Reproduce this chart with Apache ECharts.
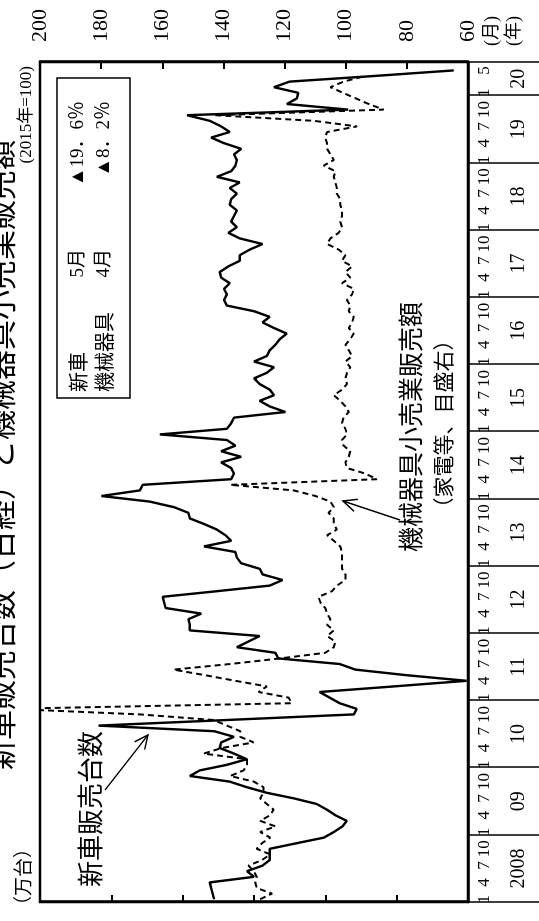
<!DOCTYPE html>
<html><head><meta charset="utf-8">
<script src="https://cdn.jsdelivr.net/npm/echarts@6/dist/echarts.min.js"></script>
<style>
html,body{margin:0;padding:0;width:539px;height:921px;overflow:hidden;background:#fff}
#wrap{position:absolute;left:0;top:0;width:921px;height:539px;transform-origin:0 0;transform:translate(0,921px) rotate(-90deg);}
#chart{width:921px;height:539px;background:#fff}
</style></head>
<body><div id="wrap"><div id="chart"></div></div>
<script>
// ---- data ----
const yearLabels = ['2008','09','10','11','12','13','14','15','16','17','18','19','20'];
const monthsInLastYear = 6;
const monthTickLabels = [1, 4, 7, 10];
const lastMonthLabel = 5;
// 新車販売台数 (万台, left axis)
const carSales = [
 37.8,37.9,38.0,38.1,35.0,35.5,34.4,33.9,33.9,33.9,32.0,30.1,
 29.4,28.8,28.5,29.3,29.9,30.6,32.2,34.1,35.5,36.7,39.5,38.8,
 36.9,35.5,36.4,37.4,37.3,36.4,37.8,45.9,36.9,28.0,27.8,29.0,
 29.7,30.4,25.2,20.1,24.3,27.9,29.0,33.3,33.5,36.2,35.4,34.6,
 39.5,39.5,39.6,38.7,41.2,41.3,41.4,37.6,33.9,33.0,34.4,34.6,
 35.9,36.2,36.3,38.5,36.6,37.0,37.6,38.5,39.5,39.6,40.6,42.3,
 45.7,43.0,42.8,36.6,36.4,36.6,37.3,35.9,37.3,36.3,36.9,41.6,
 36.9,36.6,36.4,32.8,33.9,34.6,33.6,33.9,34.6,35.0,34.1,33.6,
 35.0,34.1,33.9,33.5,33.2,32.7,33.6,34.4,33.9,35.0,36.9,37.1,
 36.9,37.1,36.7,37.3,37.4,36.8,36.0,36.0,35.3,34.4,36.0,36.8,
 36.2,36.6,36.4,36.2,36.7,36.6,36.2,36.7,36.0,37.6,36.6,36.3,
 36.2,36.4,35.9,37.1,38.0,36.7,37.3,38.1,39.7,28.4,32.7,32.0,
 31.9,33.6,32.5,26.6,21.0,null
];
// 機械器具小売業販売額 (2015年=100, right axis)
const machineSales = [
 128.0,124.1,129.1,129.6,129.1,130.1,131.8,127.4,124.7,129.1,127.4,124.7,
 128.0,123.0,128.0,124.7,123.6,125.8,128.0,126.9,126.9,130.1,137.8,133.4,
 132.3,132.3,146.5,140.5,130.1,134.5,134.5,138.9,143.2,167.3,210.0,117.6,
 118.7,128.5,125.8,136.1,146.0,156.3,137.8,121.4,106.7,103.9,103.4,106.1,
 103.9,106.1,105.0,106.1,106.7,108.3,108.9,104.5,102.9,100.1,100.1,101.2,
 101.2,101.2,101.2,101.8,103.9,106.1,102.9,103.9,103.9,105.6,103.9,105.0,
 109.9,117.0,137.8,89.8,93.6,99.6,100.1,99.0,98.5,100.7,101.2,99.6,
 100.1,101.2,100.7,99.0,100.1,101.8,103.9,101.2,99.6,100.1,99.6,98.5,
 100.1,97.9,99.0,100.1,98.5,97.4,99.0,97.9,97.4,99.0,98.5,99.6,
 97.9,97.4,101.2,98.5,100.1,97.9,101.2,100.1,102.3,106.1,105.0,102.3,
 101.2,101.8,101.2,101.2,101.8,101.8,102.9,102.9,103.4,103.9,103.4,107.2,
 103.9,105.0,106.1,106.1,106.7,106.1,96.3,110.5,142.7,87.6,92.5,96.7,
 100.9,105.0,100.7,93.6,null,null
];
const leftAxis = { min: 20, max: 50, interval: 5 };
const rightAxis = { min: 60, max: 200, interval: 20 };

// categories (year index / month)
const categories = [];
yearLabels.forEach((y, yi) => {
  const n = yi === yearLabels.length - 1 ? monthsInLastYear : 12;
  for (let m = 1; m <= n; m++) categories.push(yi + '-' + m);
});
const nCat = categories.length;

const SERIF = '"Liberation Serif","Noto Sans CJK JP",serif';
const JP = '"Noto Sans CJK JP","Liberation Serif",sans-serif';

function showMonth(i) {
  const [yi, m] = categories[i].split('-').map(Number);
  if (yi === yearLabels.length - 1) return m === 1 || m === lastMonthLabel;
  return monthTickLabels.indexOf(m) >= 0;
}

function arrow(sx, sy, ex, ey) {
  const dx = ex - sx, dy = ey - sy, L = Math.hypot(dx, dy);
  const bx = -dx / L, by = -dy / L, a = 25 * Math.PI / 180, h = 15;
  const c = Math.cos(a), s = Math.sin(a);
  const p1 = [ex + h * (bx * c - by * s), ey + h * (bx * s + by * c)];
  const p2 = [ex + h * (bx * c + by * s), ey + h * (-bx * s + by * c)];
  return [
    { type: 'line', shape: { x1: sx, y1: sy, x2: ex, y2: ey }, style: { stroke: '#000', lineWidth: 1.5 } },
    { type: 'polyline', shape: { points: [p1, [ex, ey], p2] }, style: { stroke: '#000', lineWidth: 1.5, fill: null } }
  ];
}
function txt(text, x, y, font, align, valign) {
  return { type: 'text', style: { text, x, y, font, fill: '#000', textAlign: align || 'left', textVerticalAlign: valign || 'middle' } };
}

const chart = echarts.init(document.getElementById('chart'), null, { renderer: 'canvas' });
const option = {
  animation: false,
  backgroundColor: '#fff',
  grid: { left: 19, top: 40, width: 840, height: 428, show: true, borderColor: '#000', borderWidth: 2.5, backgroundColor: 'transparent', containLabel: false },
  xAxis: [
    {
      type: 'category', data: categories, boundaryGap: true, position: 'bottom',
      axisLine: { show: true, lineStyle: { color: '#000', width: 2.5 } },
      axisTick: { show: true, interval: (i) => i % 12 === 0, length: 72, lineStyle: { color: '#000', width: 1.5 } },
      axisLabel: { interval: (i) => showMonth(i), formatter: (v) => v.split('-')[1], color: '#000', fontFamily: SERIF, fontSize: 17, margin: 8 },
      splitLine: { show: false }
    },
    {
      type: 'value', min: 0, max: nCat, interval: 3, position: 'bottom', offset: 38,
      axisLine: { show: false }, axisTick: { show: false }, splitLine: { show: false },
      axisLabel: {
        color: '#000', fontFamily: SERIF, fontSize: 20, margin: 3, showMinLabel: true, showMaxLabel: true,
        formatter: (v) => {
          const last = yearLabels.length - 1;
          if (v % 12 === 6 && v < last * 12) return yearLabels[(v - 6) / 12];
          if (v === last * 12 + 3) return yearLabels[last];
          return '';
        }
      }
    }
  ],
  yAxis: [
    {
      type: 'value', position: 'left', min: leftAxis.min, max: leftAxis.max, interval: leftAxis.interval,
      axisLine: { show: true, lineStyle: { color: '#000', width: 2.5 } },
      axisTick: { show: true, inside: true, length: 7, lineStyle: { color: '#000', width: 2 } },
      axisLabel: { show: false }, splitLine: { show: false }
    },
    {
      type: 'value', position: 'right', min: rightAxis.min, max: rightAxis.max, interval: rightAxis.interval,
      axisLine: { show: true, lineStyle: { color: '#000', width: 2.5 } },
      axisTick: { show: true, inside: true, length: 7, lineStyle: { color: '#000', width: 2 } },
      axisLabel: { color: '#000', fontFamily: SERIF, fontSize: 22, margin: 20 },
      splitLine: { show: false }
    }
  ],
  series: [
    { name: '新車販売台数', type: 'line', xAxisIndex: 0, yAxisIndex: 0, data: carSales, symbol: 'none', clip: true,
      lineStyle: { color: '#000', width: 2.4 }, z: 3 },
    { name: '機械器具小売業販売額', type: 'line', xAxisIndex: 0, yAxisIndex: 1, data: machineSales, symbol: 'none', clip: true,
      lineStyle: { color: '#000', width: 2, type: [6, 4] }, z: 2 }
  ],
  graphic: [].concat(
    [
      txt('新車販売台数（日経）と機械器具小売業販売額', 466, 1, '30px ' + JP, 'center'),
      txt('(2015年=100)', 855, 27, '17px ' + SERIF, 'right'),
      txt('（万台）', 6, 23, '19px ' + JP, 'left'),
      { type: 'rect', shape: { x: 523, y: 57, width: 320, height: 73 }, style: { stroke: '#000', lineWidth: 1.5, fill: '#fff' }, z: 10 },
      Object.assign(txt('新車', 529, 78, '20px ' + JP, 'left'), { z: 11 }),
      Object.assign(txt('機械器具', 529, 104, '20px ' + JP, 'left'), { z: 11 }),
      Object.assign(txt('5月', 672, 78, '19px ' + SERIF, 'right'), { z: 11 }),
      Object.assign(txt('4月', 672, 104, '19px ' + SERIF, 'right'), { z: 11 }),
      Object.assign(txt('▲19．6％', 820, 78, '19px ' + SERIF, 'right'), { z: 11 }),
      Object.assign(txt('▲8．2％', 820, 104, '19px ' + SERIF, 'right'), { z: 11 }),
      txt('新車販売台数', 34, 90, '26px ' + JP, 'left'),
      txt('機械器具小売業販売額', 494, 410, '25px ' + JP, 'center'),
      txt('（家電等、目盛右）', 497, 443, '21px ' + JP, 'center'),
      txt('(月)', 890, 492, '18px ' + SERIF, 'center'),
      txt('(年)', 890, 514, '18px ' + SERIF, 'center')
    ],
    arrow(131, 105, 186, 148),
    arrow(401, 400, 420, 343)
  )
};
chart.setOption(option);
</script>
</body></html>
